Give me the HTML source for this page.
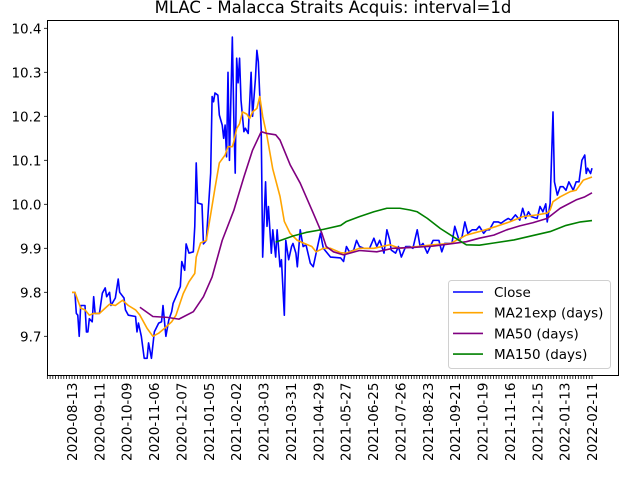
<!DOCTYPE html>
<html><head><meta charset="utf-8"><style>
body{margin:0;background:#fff}
svg{display:block;font-family:"DejaVu Sans","Liberation Sans",sans-serif}
</style></head><body>
<svg id="chart" width="640" height="480" viewBox="0 0 640 480"></svg>
<script>
const tickLabels=["2020-08-13","2020-09-11","2020-10-09","2020-11-06","2020-12-07","2021-01-05","2021-02-02","2021-03-03","2021-03-31","2021-04-29","2021-05-27","2021-06-25","2021-07-26","2021-08-23","2021-09-21","2021-10-19","2021-11-16","2021-12-15","2022-01-13","2022-02-11"];
const yTicks=[9.7,9.8,9.9,10.0,10.1,10.2,10.3,10.4];
const closeIdx=[0,2,3,4,5,6,9,10,11,12,14,15,16,19,21,23,24,26,27,30,32,33,36,37,39,44,45,46,48,50,52,53,55,57,60,62,63,65,67,69,70,72,75,76,78,79,81,84,85,86,87,90,91,93,96,97,98,99,101,102,104,105,106,107,108,109,111,112,113,114,115,116,117,119,120,122,124,125,127,128,129,131,132,134,135,136,138,139,141,142,144,145,147,148,150,152,153,155,156,158,160,162,165,167,169,172,174,179,186,188,190,192,195,197,199,202,206,209,211,213,216,218,220,221,224,226,228,231,234,236,239,241,243,246,248,250,254,256,258,263,265,268,270,272,274,277,280,282,285,287,289,292,295,297,300,302,304,307,310,312,314,316,318,322,324,326,328,329,331,333,334,336,338,340,342,344,347,349,351,353,355,356,357,359,360];
const closeVal=[9.80,9.80,9.752,9.748,9.70,9.77,9.77,9.71,9.71,9.74,9.733,9.79,9.752,9.752,9.798,9.81,9.79,9.80,9.77,9.787,9.83,9.80,9.787,9.76,9.748,9.745,9.71,9.73,9.70,9.65,9.65,9.685,9.65,9.71,9.73,9.733,9.77,9.70,9.737,9.756,9.775,9.79,9.813,9.87,9.85,9.91,9.889,9.892,9.95,10.094,10.003,10.0,9.91,9.918,10.071,10.245,10.233,10.253,10.248,10.203,10.18,10.15,10.18,10.108,10.30,10.10,10.38,10.20,10.071,10.332,10.276,10.332,10.237,10.165,10.173,10.161,10.30,10.20,10.286,10.35,10.324,10.169,9.88,10.051,9.95,9.995,9.889,9.942,9.88,9.942,9.858,9.874,9.748,9.918,9.874,9.904,9.911,9.889,9.858,9.942,9.904,9.908,9.866,9.858,9.889,9.934,9.90,9.88,9.878,9.87,9.904,9.892,9.896,9.918,9.904,9.90,9.90,9.923,9.904,9.918,9.889,9.942,9.918,9.896,9.889,9.904,9.88,9.904,9.904,9.90,9.942,9.904,9.911,9.889,9.904,9.918,9.918,9.892,9.911,9.911,9.95,9.918,9.926,9.96,9.934,9.942,9.942,9.95,9.934,9.942,9.942,9.96,9.96,9.957,9.964,9.968,9.964,9.976,9.964,9.991,9.968,9.983,9.972,9.968,9.995,9.983,10.001,9.96,10.002,10.21,10.051,10.021,10.04,10.04,10.032,10.051,10.032,10.051,10.051,10.10,10.112,10.07,10.082,10.07,10.082];
const emaIdx=[0,2,6,9,12,15,19,23,26,30,35,39,44,47,52,56,60,64,69,72,77,81,85,86,89,93,96,99,102,106,108,111,112,114,116,118,121,123,125,128,130,132,135,139,144,147,151,156,161,166,169,174,179,186,190,199,209,220,227,239,250,262,269,273,282,294,303,312,322,329,331,333,338,345,349,354,360];
const emaVal=[9.80,9.80,9.764,9.76,9.748,9.752,9.752,9.764,9.773,9.770,9.782,9.770,9.76,9.748,9.718,9.70,9.707,9.718,9.733,9.748,9.797,9.824,9.843,9.88,9.912,9.918,9.977,10.037,10.094,10.112,10.131,10.131,10.142,10.172,10.183,10.21,10.205,10.195,10.21,10.218,10.245,10.20,10.155,10.08,10.018,9.961,9.934,9.918,9.911,9.904,9.892,9.90,9.90,9.89,9.889,9.90,9.90,9.908,9.90,9.904,9.908,9.911,9.923,9.93,9.938,9.95,9.96,9.972,9.976,9.98,9.987,10.006,10.017,10.029,10.032,10.055,10.062];
const ma50Idx=[47,56,66,74,84,91,97,104,112,119,125,131,135,141,144,151,158,167,173,176,181,188,199,211,222,236,250,264,273,282,292,301,310,319,329,338,349,355,360];
const ma50Val=[9.766,9.745,9.743,9.739,9.756,9.79,9.835,9.918,9.986,10.062,10.123,10.165,10.161,10.158,10.146,10.09,10.048,9.98,9.934,9.904,9.892,9.885,9.895,9.892,9.90,9.902,9.905,9.911,9.915,9.923,9.93,9.942,9.951,9.958,9.968,9.991,10.01,10.017,10.026];
const ma150Idx=[141,153,162,174,186,190,199,209,218,227,234,239,246,255,264,273,282,292,306,319,331,342,352,360];
const ma150Val=[9.914,9.928,9.936,9.943,9.952,9.961,9.972,9.983,9.991,9.991,9.987,9.983,9.968,9.945,9.926,9.908,9.907,9.912,9.919,9.929,9.938,9.952,9.96,9.963];

const svg=document.getElementById('chart');
const NS='http://www.w3.org/2000/svg';
const L=47.5,R=618.5,T=20.5,B=375.5;
const X0=72,XS=520/360;
function xs(i){return X0+i*XS;}
function ys(v){return 28.3+(10.4-v)*440;}
function mk(tag,attrs,parent){const e=document.createElementNS(NS,tag);for(const k in attrs)e.setAttribute(k,attrs[k]);(parent||svg).appendChild(e);return e;}

const title=mk('text',{x:333,y:13,'text-anchor':'middle','font-size':'16.5'});


title.textContent='MLAC - Malacca Straits Acquis: interval=1d';

const plot=mk('g',{});



function line(idx,val,color,name){
  const d=idx.map((i,k)=>(k?'L':'M')+xs(i).toFixed(2)+' '+ys(val[k]).toFixed(2)).join(' ');
  const p=mk('path',{d:d,fill:'none',stroke:color,'stroke-width':'1.6','stroke-linejoin':'round'},plot);
  
  
}
line(closeIdx,closeVal,'#0000ff','close-line');
line(emaIdx,emaVal,'#ffa500','ma21exp-line');
line(ma50Idx,ma50Val,'#800080','ma50-line');
line(ma150Idx,ma150Val,'#008000','ma150-line');

const frame=mk('rect',{x:L,y:T,width:R-L,height:B-T,fill:'none',stroke:'#000','stroke-width':'1'});



const xa=mk('g',{});


const labelStep=360/(tickLabels.length-1);
const minorStep=labelStep/10;
for(let k=-9;k*minorStep<=360.01;k++){
  const x=xs(k*minorStep);
  const t=mk('line',{x1:x,x2:x,y1:B,y2:B+3.5,stroke:'#000','stroke-width':'0.8'},xa);
  
  
}
tickLabels.forEach((s,k)=>{
  const x=xs(k*labelStep);
  const t=mk('text',{x:0,y:0,'font-size':'13.5','text-anchor':'end',transform:'translate('+(x+5)+','+(B+7)+') rotate(-90)'},xa);
  
  
  t.textContent=s;
});

const ya=mk('g',{});


yTicks.forEach(v=>{
  const y=ys(v);
  const t=mk('line',{x1:L-3.5,x2:L,y1:y,y2:y,stroke:'#000','stroke-width':'0.8'},ya);
  
  
  const lb=mk('text',{x:L-6,y:y+5,'font-size':'13.5','text-anchor':'end'},ya);
  
  
  lb.textContent=v.toFixed(1);
});

const lg=mk('g',{});


mk('rect',{x:448.5,y:280.5,width:162,height:88,rx:3,fill:'#fff','fill-opacity':'0.8',stroke:'#d0d0d0'},lg);
const entries=[['Close','#0000ff'],['MA21exp (days)','#ffa500'],['MA50 (days)','#800080'],['MA150 (days)','#008000']];
entries.forEach((e,k)=>{
  const y=292+k*20.7;
  const g=mk('g',{},lg);
  
  
  mk('line',{x1:453,x2:483,y1:y,y2:y,stroke:e[1],'stroke-width':'1.6'},g);
  const t=mk('text',{x:494,y:y+5,'font-size':'13.5'},g);
  t.textContent=e[0];
});
</script>
</body></html>
